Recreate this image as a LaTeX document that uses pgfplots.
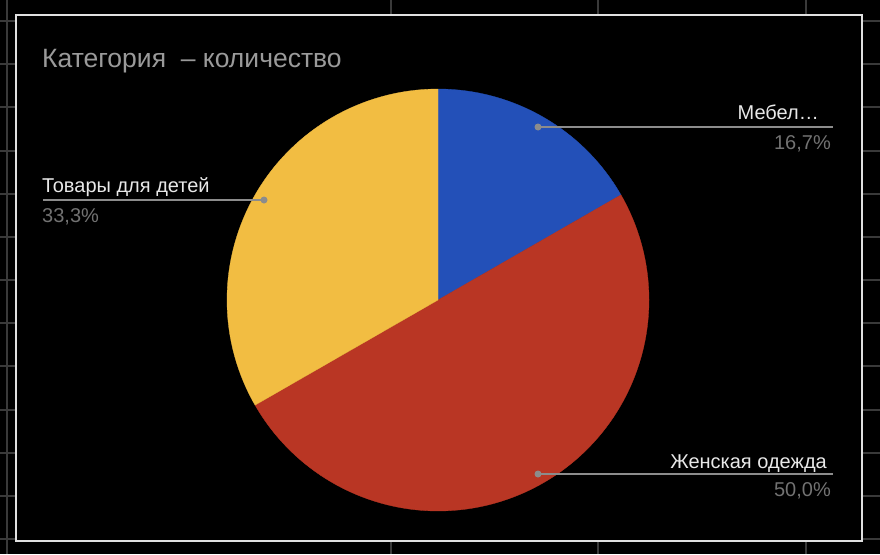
\documentclass[border=0pt]{standalone}
\usepackage{pgfplots}
\pgfplotsset{compat=1.18}
\usepackage{pgfplotstable}
\usepackage{fontspec}
\setmainfont{Liberation Sans}
\definecolor{gridc}{HTML}{3A3A3A}
\definecolor{sliceblue}{HTML}{2350B8}
\definecolor{slicered}{HTML}{B93624}
\definecolor{sliceyellow}{HTML}{F2BD42}
\definecolor{titlec}{HTML}{9A9A9A}
\definecolor{labelc}{HTML}{E8E8E8}
\definecolor{pctc}{HTML}{727272}
\definecolor{leadc}{HTML}{8C8C8C}
\definecolor{framec}{HTML}{E0E0E0}

\pgfplotstableread{
share
16.7
50.0
33.3
}\piedata

\begin{document}
\begin{tikzpicture}
\pgfplotstablegetelem{0}{share}\of\piedata \pgfmathsetmacro\sA{\pgfplotsretval}
\pgfplotstablegetelem{1}{share}\of\piedata \pgfmathsetmacro\sB{\pgfplotsretval}
\pgfplotstablegetelem{2}{share}\of\piedata \pgfmathsetmacro\sC{\pgfplotsretval}
\pgfmathsetmacro\aA{90}
\pgfmathsetmacro\aB{\aA-3.6*\sA}
\pgfmathsetmacro\aC{\aB-3.6*\sB}
\pgfmathsetmacro\aD{\aC-3.6*\sC}
\begin{axis}[x=1pt, y=1pt, xmin=0, xmax=880, ymin=0, ymax=554, y dir=reverse,
  hide axis, clip=false, scale only axis]
\fill[black] (axis cs:0,0) rectangle (axis cs:880,554);
\pgfplotsinvokeforeach{7,391,598,806}{\draw[gridc, line width=1.5pt] (axis cs:#1,0) -- (axis cs:#1,554);}
\pgfplotsinvokeforeach{21,64,107,151,194,237,280,323,366,410,453,496,539}{\draw[gridc, line width=1.5pt] (axis cs:0,#1) -- (axis cs:880,#1);}
\draw[framec, line width=2pt, fill=black] (axis cs:16,15) rectangle (axis cs:862,541);
% pie slices
\addplot[fill=sliceblue, draw=sliceblue, line width=0.3pt, domain=\aB:\aA, samples=120]
  ({438+211*cos(x)}, {300-211*sin(x)}) -- (axis cs:438,300) -- cycle;
\addplot[fill=slicered, draw=slicered, line width=0.3pt, domain=\aC:\aB, samples=200]
  ({438+211*cos(x)}, {300-211*sin(x)}) -- (axis cs:438,300) -- cycle;
\addplot[fill=sliceyellow, draw=sliceyellow, line width=0.3pt, domain=\aD:\aC, samples=150]
  ({438+211*cos(x)}, {300-211*sin(x)}) -- (axis cs:438,300) -- cycle;
% title
\node[anchor=base west, inner sep=0pt, text=titlec, font=\fontsize{26.5}{30}\selectfont] at (axis cs:42,67) {Категория\ \ – количество};
% leaders
\draw[leadc, line width=2pt] (axis cs:538,127) -- (axis cs:833,127);
\fill[leadc] (axis cs:538,127) circle[radius=3.5pt];
\draw[leadc, line width=2pt] (axis cs:43,200) -- (axis cs:264,200);
\fill[leadc] (axis cs:264,200) circle[radius=3.5pt];
\draw[leadc, line width=2pt] (axis cs:538,474) -- (axis cs:833,474);
\fill[leadc] (axis cs:538,474) circle[radius=3.5pt];
% labels
\node[anchor=base east, inner sep=0pt, text=labelc, font=\fontsize{20}{24}\selectfont] at (axis cs:819,119) {Мебел…};
\node[anchor=base east, inner sep=0pt, text=pctc, font=\fontsize{20}{24}\selectfont] at (axis cs:831,149) {16,7\%};
\node[anchor=base west, inner sep=0pt, text=labelc, font=\fontsize{20}{24}\selectfont] at (axis cs:42,192) {Товары для детей};
\node[anchor=base west, inner sep=0pt, text=pctc, font=\fontsize{20}{24}\selectfont] at (axis cs:42,222) {33,3\%};
\node[anchor=base east, inner sep=0pt, text=labelc, font=\fontsize{20}{24}\selectfont] at (axis cs:827,468) {Женская одежда};
\node[anchor=base east, inner sep=0pt, text=pctc, font=\fontsize{20}{24}\selectfont] at (axis cs:831,496) {50,0\%};
\end{axis}
\pgfresetboundingbox
\useasboundingbox (current axis.south west) rectangle (current axis.north east);
\end{tikzpicture}
\end{document}
